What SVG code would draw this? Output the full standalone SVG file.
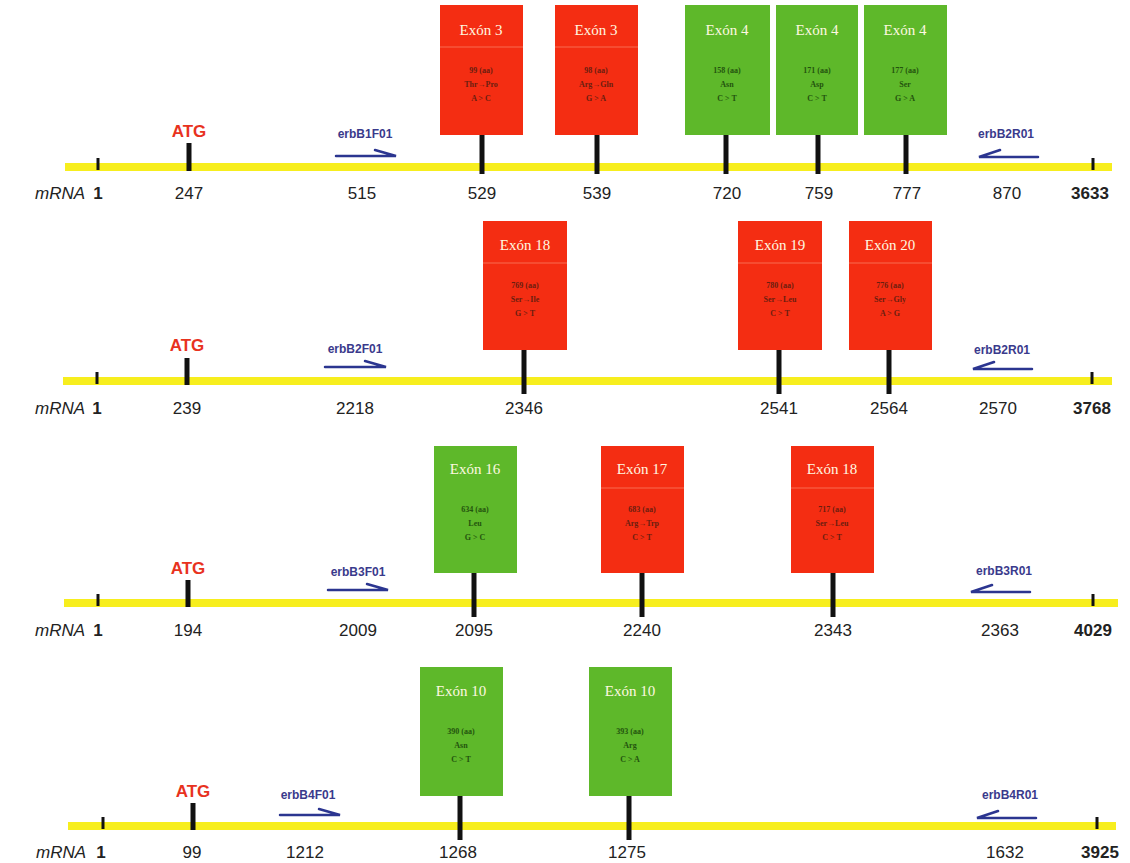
<svg xmlns="http://www.w3.org/2000/svg" width="1130" height="863" viewBox="0 0 1130 863">
<style>
.bg{fill:#ffffff}
.mrna{stroke:#f7ee1e;stroke-width:8;fill:none}
.tick{stroke:#111;stroke-width:3}
.atgt{stroke:#111;stroke-width:5}
.stem{stroke:#111;stroke-width:5}
.red{fill:#f42d12}
.green{fill:#5eb82a}
.div{stroke:#ffb09a;stroke-width:0.8;opacity:0.6}
.divg{stroke:#a8de88;stroke-width:0.8;opacity:0.6}
.title{font-family:"Liberation Serif",serif;font-size:15px;fill:#fff8e0;text-anchor:middle}
.info{font-family:"Liberation Serif",serif;font-size:8px;font-weight:bold;fill:#3a1a10;text-anchor:middle;opacity:0.75}
.infog{font-family:"Liberation Serif",serif;font-size:8px;font-weight:bold;fill:#143a08;text-anchor:middle;opacity:0.8}
.num{font-family:"Liberation Sans",sans-serif;font-size:17px;fill:#222;text-anchor:middle}
.bold{font-weight:bold}
.lab{font-family:"Liberation Sans",sans-serif;font-size:17px;font-style:italic;fill:#222}
.atg{font-family:"Liberation Sans",sans-serif;font-size:17px;font-weight:bold;fill:#e8321e;text-anchor:middle}
.pr{font-family:"Liberation Sans",sans-serif;font-size:12px;font-weight:bold;fill:#3a3a8c;text-anchor:middle}
.arr{stroke:#2b3590;stroke-width:2.5;fill:none;stroke-linecap:round}
</style>
<rect class="bg" x="0" y="0" width="1130" height="863"/>

<g id="connectors">
  <!-- row 1 -->
  <line class="mrna" x1="65" y1="167" x2="1112" y2="167"/>
  <line class="tick" x1="98" y1="158" x2="98" y2="170"/>
  <line class="tick" x1="1093" y1="158" x2="1093" y2="170"/>
  <line class="atgt" x1="189" y1="143" x2="189" y2="171"/>
  <line class="stem" x1="482" y1="135" x2="482" y2="174"/>
  <line class="stem" x1="597" y1="135" x2="597" y2="174"/>
  <line class="stem" x1="726" y1="135" x2="726" y2="174"/>
  <line class="stem" x1="818" y1="135" x2="818" y2="174"/>
  <line class="stem" x1="906" y1="135" x2="906" y2="174"/>
  <path class="arr" d="M336 156 H396 L375 150"/>
  <path class="arr" d="M1038 157 H979 L1000 150"/>
  <!-- row 2 -->
  <line class="mrna" x1="63" y1="381" x2="1112" y2="381"/>
  <line class="tick" x1="97" y1="372" x2="97" y2="384"/>
  <line class="tick" x1="1092" y1="372" x2="1092" y2="384"/>
  <line class="atgt" x1="187" y1="358" x2="187" y2="385"/>
  <line class="stem" x1="524" y1="350" x2="524" y2="394"/>
  <line class="stem" x1="779" y1="350" x2="779" y2="394"/>
  <line class="stem" x1="889" y1="350" x2="889" y2="394"/>
  <path class="arr" d="M325 367 H386 L365 361"/>
  <path class="arr" d="M1032 369 H973 L994 362"/>
  <!-- row 3 -->
  <line class="mrna" x1="64" y1="603" x2="1118" y2="603"/>
  <line class="tick" x1="98" y1="594" x2="98" y2="606"/>
  <line class="tick" x1="1093" y1="594" x2="1093" y2="606"/>
  <line class="atgt" x1="188" y1="580" x2="188" y2="607"/>
  <line class="stem" x1="474" y1="573" x2="474" y2="617"/>
  <line class="stem" x1="642" y1="573" x2="642" y2="617"/>
  <line class="stem" x1="833" y1="573" x2="833" y2="617"/>
  <path class="arr" d="M328 590 H388 L367 584"/>
  <path class="arr" d="M1030 592 H971 L992 585"/>
  <!-- row 4 -->
  <line class="mrna" x1="68" y1="826" x2="1116" y2="826"/>
  <line class="tick" x1="103" y1="817" x2="103" y2="829"/>
  <line class="tick" x1="1097" y1="817" x2="1097" y2="829"/>
  <line class="atgt" x1="193" y1="803" x2="193" y2="830"/>
  <line class="stem" x1="460" y1="796" x2="460" y2="840"/>
  <line class="stem" x1="629" y1="796" x2="629" y2="840"/>
  <path class="arr" d="M280 815 H340 L319 809"/>
  <path class="arr" d="M1036 818 H977 L998 811"/>
</g>

<g id="row1-labels">
  <text class="lab" x="35" y="199">mRNA</text>
  <text class="num bold" x="98" y="199">1</text>
  <text class="atg" x="189" y="137">ATG</text>
  <text class="num" x="189" y="199">247</text>
  <text class="num" x="362" y="199">515</text>
  <text class="num" x="482" y="199">529</text>
  <text class="num" x="597" y="199">539</text>
  <text class="num" x="727" y="199">720</text>
  <text class="num" x="819" y="199">759</text>
  <text class="num" x="907" y="199">777</text>
  <text class="num" x="1007" y="199">870</text>
  <text class="num bold" x="1090" y="199">3633</text>
  <text class="pr" x="365" y="138">erbB1F01</text>
  <text class="pr" x="1006" y="138">erbB2R01</text>
</g>
<g id="r1-exon3a"><rect class="red" x="440" y="5" width="83" height="130"/><line class="div" x1="440" y1="47" x2="523" y2="47"/><text class="title" x="481" y="35">Exón 3</text><text class="info" x="481" y="73">99 (aa)</text><text class="info" x="481" y="87">Thr→Pro</text><text class="info" x="481" y="101">A &gt; C</text></g>
<g id="r1-exon3b"><rect class="red" x="555" y="5" width="83" height="130"/><line class="div" x1="555" y1="47" x2="638" y2="47"/><text class="title" x="596" y="35">Exón 3</text><text class="info" x="596" y="73">98 (aa)</text><text class="info" x="596" y="87">Arg→Gln</text><text class="info" x="596" y="101">G &gt; A</text></g>
<g id="r1-exon4a"><rect class="green" x="685" y="5" width="85" height="130"/><text class="title" x="727" y="35">Exón 4</text><text class="infog" x="727" y="73">158 (aa)</text><text class="infog" x="727" y="87">Asn</text><text class="infog" x="727" y="101">C &gt; T</text></g>
<g id="r1-exon4b"><rect class="green" x="776" y="5" width="82" height="130"/><text class="title" x="817" y="35">Exón 4</text><text class="infog" x="817" y="73">171 (aa)</text><text class="infog" x="817" y="87">Asp</text><text class="infog" x="817" y="101">C &gt; T</text></g>
<g id="r1-exon4c"><rect class="green" x="864" y="5" width="83" height="130"/><text class="title" x="905" y="35">Exón 4</text><text class="infog" x="905" y="73">177 (aa)</text><text class="infog" x="905" y="87">Ser</text><text class="infog" x="905" y="101">G &gt; A</text></g>

<g id="row2-labels">
  <text class="lab" x="35" y="414">mRNA</text>
  <text class="num bold" x="97" y="414">1</text>
  <text class="atg" x="187" y="351">ATG</text>
  <text class="num" x="187" y="414">239</text>
  <text class="num" x="355" y="414">2218</text>
  <text class="num" x="524" y="414">2346</text>
  <text class="num" x="779" y="414">2541</text>
  <text class="num" x="889" y="414">2564</text>
  <text class="num" x="998" y="414">2570</text>
  <text class="num bold" x="1092" y="414">3768</text>
  <text class="pr" x="355" y="353">erbB2F01</text>
  <text class="pr" x="1002" y="354">erbB2R01</text>
</g>
<g id="r2-exon18"><rect class="red" x="483" y="221" width="84" height="129"/><line class="div" x1="483" y1="263" x2="567" y2="263"/><text class="title" x="525" y="250">Exón 18</text><text class="info" x="525" y="288">769 (aa)</text><text class="info" x="525" y="302">Ser→Ile</text><text class="info" x="525" y="316">G &gt; T</text></g>
<g id="r2-exon19"><rect class="red" x="738" y="221" width="84" height="129"/><line class="div" x1="738" y1="263" x2="822" y2="263"/><text class="title" x="780" y="250">Exón 19</text><text class="info" x="780" y="288">780 (aa)</text><text class="info" x="780" y="302">Ser→Leu</text><text class="info" x="780" y="316">C &gt; T</text></g>
<g id="r2-exon20"><rect class="red" x="849" y="221" width="83" height="129"/><line class="div" x1="849" y1="263" x2="932" y2="263"/><text class="title" x="890" y="250">Exón 20</text><text class="info" x="890" y="288">776 (aa)</text><text class="info" x="890" y="302">Ser→Gly</text><text class="info" x="890" y="316">A &gt; G</text></g>

<g id="row3-labels">
  <text class="lab" x="35" y="636">mRNA</text>
  <text class="num bold" x="98" y="636">1</text>
  <text class="atg" x="188" y="574">ATG</text>
  <text class="num" x="188" y="636">194</text>
  <text class="num" x="358" y="636">2009</text>
  <text class="num" x="474" y="636">2095</text>
  <text class="num" x="642" y="636">2240</text>
  <text class="num" x="833" y="636">2343</text>
  <text class="num" x="1000" y="636">2363</text>
  <text class="num bold" x="1093" y="636">4029</text>
  <text class="pr" x="358" y="576">erbB3F01</text>
  <text class="pr" x="1004" y="575">erbB3R01</text>
</g>
<g id="r3-exon16"><rect class="green" x="434" y="446" width="83" height="127"/><text class="title" x="475" y="474">Exón 16</text><text class="infog" x="475" y="512">634 (aa)</text><text class="infog" x="475" y="526">Leu</text><text class="infog" x="475" y="540">G &gt; C</text></g>
<g id="r3-exon17"><rect class="red" x="601" y="446" width="83" height="127"/><line class="div" x1="601" y1="488" x2="684" y2="488"/><text class="title" x="642" y="474">Exón 17</text><text class="info" x="642" y="512">683 (aa)</text><text class="info" x="642" y="526">Arg→Trp</text><text class="info" x="642" y="540">C &gt; T</text></g>
<g id="r3-exon18"><rect class="red" x="791" y="446" width="83" height="127"/><line class="div" x1="791" y1="488" x2="874" y2="488"/><text class="title" x="832" y="474">Exón 18</text><text class="info" x="832" y="512">717 (aa)</text><text class="info" x="832" y="526">Ser→Leu</text><text class="info" x="832" y="540">C &gt; T</text></g>

<g id="row4-labels">
  <text class="lab" x="36" y="858">mRNA</text>
  <text class="num bold" x="101" y="858">1</text>
  <text class="atg" x="193" y="797">ATG</text>
  <text class="num" x="192" y="858">99</text>
  <text class="num" x="305" y="858">1212</text>
  <text class="num" x="458" y="858">1268</text>
  <text class="num" x="627" y="858">1275</text>
  <text class="num" x="1005" y="858">1632</text>
  <text class="num bold" x="1100" y="858">3925</text>
  <text class="pr" x="308" y="799">erbB4F01</text>
  <text class="pr" x="1010" y="799">erbB4R01</text>
</g>
<g id="r4-exon10a"><rect class="green" x="420" y="667" width="83" height="129"/><text class="title" x="461" y="696">Exón 10</text><text class="infog" x="461" y="734">390 (aa)</text><text class="infog" x="461" y="748">Asn</text><text class="infog" x="461" y="762">C &gt; T</text></g>
<g id="r4-exon10b"><rect class="green" x="589" y="667" width="83" height="129"/><text class="title" x="630" y="696">Exón 10</text><text class="infog" x="630" y="734">393 (aa)</text><text class="infog" x="630" y="748">Arg</text><text class="infog" x="630" y="762">C &gt; A</text></g>
</svg>
